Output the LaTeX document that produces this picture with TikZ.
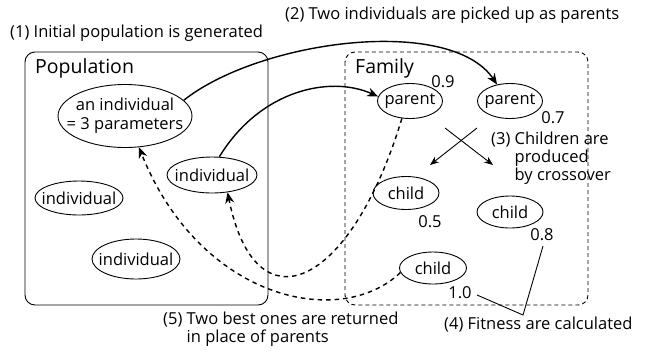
\documentclass[tikz,border=0pt]{standalone}
\usepackage{fontspec}
\setmainfont{Open Sans}
\usetikzlibrary{shapes.geometric,arrows.meta}
\begin{document}
\begin{tikzpicture}[x=1pt,y=-1pt,
  every node/.style={font=\fontsize{16.5}{18}\selectfont},
  indiv/.style={draw,ellipse,line width=0.9pt,inner xsep=-30pt,inner ysep=-15pt,minimum width=#1,minimum height=35pt},
  indiv/.default=88pt,
  big/.style={font=\fontsize{19.5}{20}\selectfont},
  lbl/.style={inner sep=1pt},
  boxline/.style={line width=0.9pt,rounded corners=10pt},
  pick/.style={line width=1.4pt,-{Stealth[length=11pt,width=9pt]}},
  back/.style={line width=1.4pt,dash pattern=on 4.5pt off 4pt,-{Stealth[length=11pt,width=9pt]}},
  cross/.style={line width=0.9pt,-{Stealth[length=9pt,width=7pt]}},
  thin/.style={line width=0.9pt}]
\useasboundingbox (0,0) rectangle (652,354);

% boxes
\draw[boxline] (25,52) rectangle (268,305);
\draw[boxline,dash pattern=on 4pt off 3pt] (345,52) rectangle (588,305);
\node[big,anchor=west,inner sep=0pt] (poplbl) at (35,68) {Population};
\node[big,anchor=west,inner sep=0pt] (famlbl) at (355,68) {Family};

% captions
\node[anchor=west,inner sep=0pt] (cap1) at (10,33) {(1) Initial population is generated};
\node[anchor=west,inner sep=0pt] (cap2) at (285,15) {(2) Two individuals are picked up as parents};
\node[anchor=north west,inner sep=0pt] (cap3) at (491,132) {\begin{tabular}{@{}l@{ }l@{}}(3) & Children are\\ & produced\\ & by crossover\end{tabular}};
\node[anchor=west,inner sep=0pt] (cap4) at (444,325) {(4) Fitness are calculated};
\node[anchor=north west,inner sep=0pt] (cap5) at (163,312) {\begin{tabular}{@{}l@{ }l@{}}(5) & Two best ones are returned\\ & in place of parents\end{tabular}};

% population individuals
\node[indiv=134pt,minimum height=63pt,align=center,font=\fontsize{16.5}{19}\selectfont] (ind) at (125,116) {an individual\\= 3 parameters};
\node[indiv=90pt,minimum height=36pt] (indR) at (212,175) {individual};
\node[indiv=88pt,minimum height=34pt] (indL) at (79,198) {individual};
\node[indiv=88pt,minimum height=40pt] (indB) at (136,259) {individual};

% family
\node[indiv=65pt] (p1) at (410,101) {parent};
\node[indiv=65pt] (p2) at (510,101) {parent};
\node[indiv=66pt,minimum height=33pt] (c1) at (406,193) {child};
\node[indiv=66pt,minimum height=32pt] (c2) at (510,212) {child};
\node[indiv=67pt,minimum height=32pt] (c3) at (433,268) {child};

\node[lbl] (f09) at (443,82) {0.9};
\node[lbl] (f07) at (553,118) {0.7};
\node[lbl] (f05) at (430,222) {0.5};
\node[lbl] (f08) at (542,235) {0.8};
\node[lbl] (f10) at (460,293) {1.0};

% crossover
\coordinate (xa1) at (445,128);
\coordinate (xa2) at (493,165);
\coordinate (xb1) at (477,128);
\coordinate (xb2) at (430,165);
\draw[cross] (xa1) -- (xa2);
\draw[cross] (xb1) -- (xb2);

% fitness pointers
\coordinate (fj) at (523,315);
\draw[thin] (477,295) -- (fj) -- (543,246);

% picking arrows
\draw[pick] (ind.15) .. controls (260,40) and (450,15) .. (p2.128);
\draw[pick] (indR.68) .. controls (260,90) and (330,75) .. (p1.172);

% returning arrows
\draw[back] (p1.245) .. controls (350,290) and (255,330) .. (indR.-48);
\draw[back] (c3.188) .. controls (340,330) and (200,300) .. (ind.-66);
\end{tikzpicture}
\end{document}
